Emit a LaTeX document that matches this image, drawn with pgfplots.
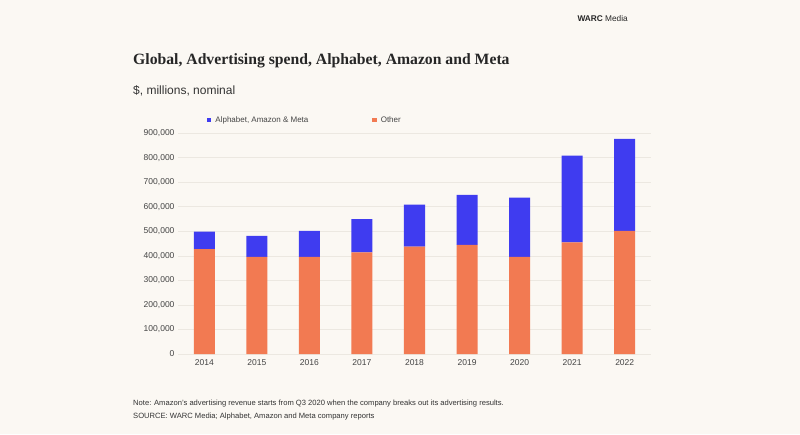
\documentclass[border=0pt]{standalone}
\usepackage{fontspec}
\setmainfont{Liberation Sans}
\newfontfamily\titlefont{Liberation Serif}
\usepackage{pgfplots}
\usepackage{pgfplotstable}
\pgfplotsset{compat=1.18}
\definecolor{bg}{HTML}{FBF8F3}
\definecolor{bigtech}{HTML}{3F3CF0}
\definecolor{other}{HTML}{F27A52}
\definecolor{gridc}{HTML}{ECE8E1}
\definecolor{txt}{HTML}{444444}
\pgfplotstableread{
x other big
0 428000 71000
1 396000 86000
2 396000 106000
3 414000 136000
4 438000 171000
5 445000 204000
6 396000 242000
7 455000 354000
8 502000 375000
}\datatable
\begin{document}
\begin{tikzpicture}
\fill[bg] (0pt,0pt) rectangle (800pt,-434pt);
\useasboundingbox (0pt,0pt) rectangle (800pt,-434pt);
\node[anchor=base east, font=\fontsize{8.3}{10}\selectfont, text=black!85, inner sep=0pt] at (628pt,-21.5pt) {\textbf{WARC} Media};
\node[anchor=base west, font=\titlefont\bfseries\fontsize{15.7}{18}\selectfont, text=black!85, inner sep=0pt] at (133pt,-64pt) {Global, Advertising spend, Alphabet, Amazon and Meta};
\node[anchor=base west, font=\fontsize{12}{14}\selectfont, text=black!80, inner sep=0pt] at (133pt,-94pt) {\$, millions, nominal};
\node[anchor=base west, font=\fontsize{7.6}{9}\selectfont, text=black!80, inner sep=0pt] at (133pt,-405.5pt) {Note: Amazon's advertising revenue starts from Q3 2020 when the company breaks out its advertising results.};
\node[anchor=base west, font=\fontsize{7.6}{9}\selectfont, text=black!80, inner sep=0pt] at (133pt,-418.5pt) {SOURCE: WARC Media; Alphabet, Amazon and Meta company reports};
\begin{axis}[
  at={(178pt,-354pt)}, anchor=south west,
  scale only axis, width=473pt, height=220.7pt,
  ybar stacked, bar width=21pt,
  xmin=-0.5, xmax=8.5, ymin=0, ymax=900000,
  xtick={0,...,8},
  xticklabels={2014,2015,2016,2017,2018,2019,2020,2021,2022},
  ytick={0,100000,200000,300000,400000,500000,600000,700000,800000,900000},
  yticklabels={0,{100,000},{200,000},{300,000},{400,000},{500,000},{600,000},{700,000},{800,000},{900,000}},
  scaled y ticks=false,
  tick label style={font=\fontsize{8.5}{10}\selectfont, text=txt},
  xticklabel style={yshift=-2pt},
  axis line style={draw=none},
  major tick length=0pt,
  ymajorgrids, grid style={draw=gridc, line width=0.8pt},
  legend style={at={(axis description cs:0.061,1.06)}, anchor=west, draw=none, fill=none,
    font=\fontsize{8}{10}\selectfont, text=txt, inner sep=0pt,
    /tikz/every even column/.append style={column sep=62pt}},
  legend columns=2,
  legend cell align=left,
  legend image code/.code={\fill[#1, draw=none] (0pt,-2.2pt) rectangle (4.4pt,2.2pt);},
]
\addplot[fill=other, draw=none, forget plot] table[x=x, y=other] {\datatable};
\addplot[fill=bigtech, draw=none, forget plot] table[x=x, y=big] {\datatable};
\addlegendimage{fill=bigtech, draw=none}
\addlegendentry{\hspace{2pt}Alphabet, Amazon \& Meta}
\addlegendimage{fill=other, draw=none}
\addlegendentry{\hspace{2pt}Other}
\end{axis}
\end{tikzpicture}
\end{document}
